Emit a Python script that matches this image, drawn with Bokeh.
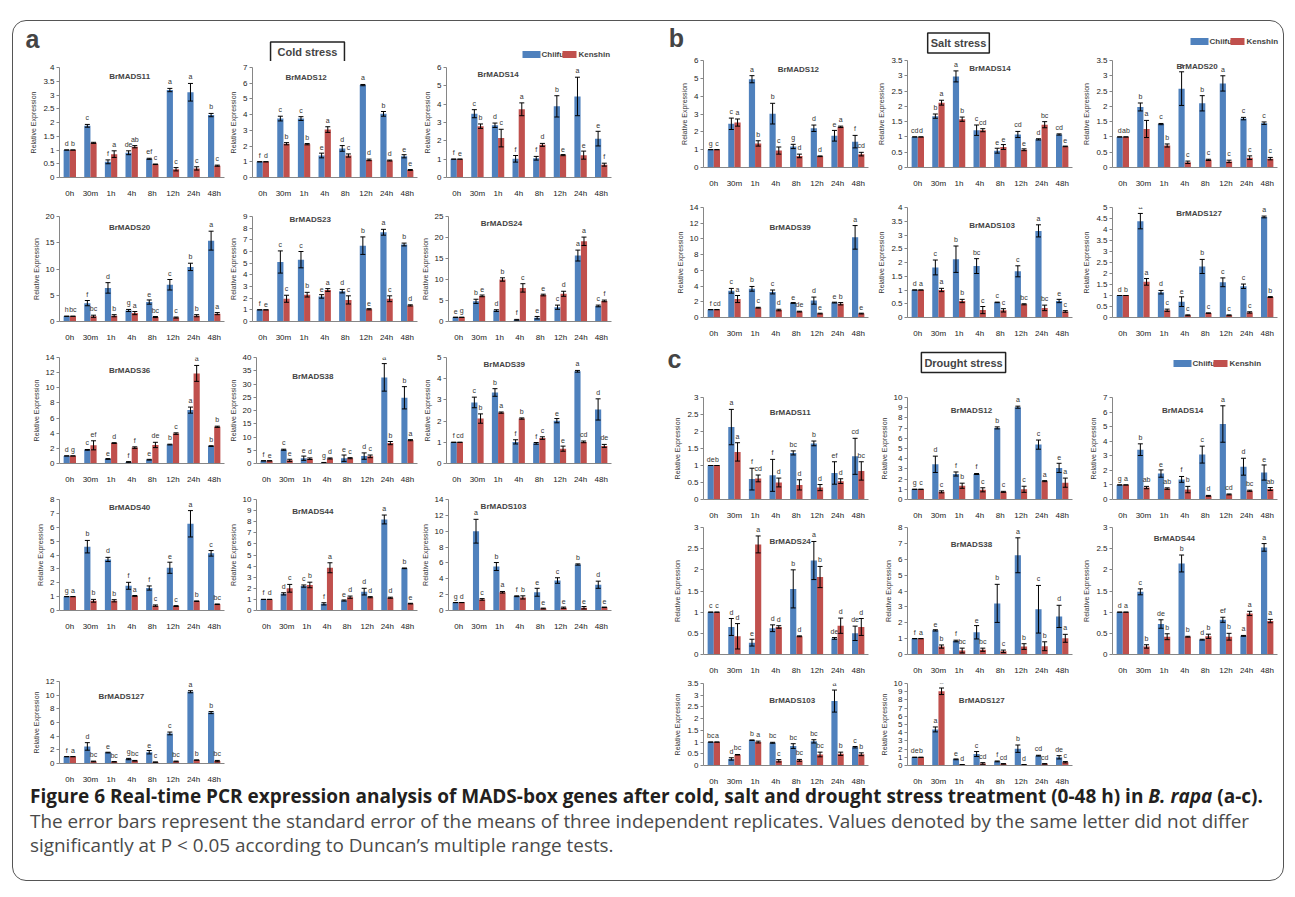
from bokeh.plotting import figure
from bokeh.models import (ColumnDataSource, Range1d, FixedTicker, CustomJSTickFormatter,
                          Label, BoxAnnotation, Spacer, Div)
from bokeh.layouts import row, column
from bokeh.transform import dodge
from bokeh.core.properties import value
from bokeh.embed import file_html
from bokeh.resources import INLINE

TIMES = ["0h", "30m", "1h", "4h", "8h", "12h", "24h", "48h"]
CULTIVARS = ["Chiifu", "Kenshin"]

# ---------------- (a) Cold stress ----------------
A11_C = [1.00, 1.88, 0.57, 0.90, 0.68, 3.18, 3.10, 2.27]
A11_CE = [0.00, 0.05, 0.07, 0.07, 0.02, 0.06, 0.32, 0.06]
A11_K = [1.00, 1.26, 0.85, 1.12, 0.48, 0.30, 0.33, 0.43]
A11_KE = [0.00, 0.02, 0.12, 0.04, 0.01, 0.06, 0.06, 0.02]
A11_CL = ["d", "c", "f", "de", "ef", "a", "a", "b"]
A11_KL = ["b", "", "a", "ab", "c", "c", "c", "c"]

A12_C = [1.00, 3.75, 3.75, 1.40, 1.85, 5.88, 4.05, 1.35]
A12_CE = [0.00, 0.15, 0.12, 0.15, 0.18, 0.04, 0.15, 0.10]
A12_K = [1.00, 2.15, 2.12, 3.05, 1.40, 1.12, 1.08, 0.48]
A12_KE = [0.00, 0.07, 0.04, 0.18, 0.10, 0.05, 0.03, 0.03]
A12_CL = ["f", "c", "c", "e", "d", "a", "b", "e"]
A12_KL = ["d", "b", "b", "a", "c", "d", "d", "e"]

A14_C = [1.00, 3.48, 2.85, 1.02, 1.05, 3.88, 4.42, 2.12]
A14_CE = [0.00, 0.22, 0.12, 0.18, 0.10, 0.58, 1.05, 0.40]
A14_K = [1.00, 2.80, 2.15, 3.72, 1.78, 1.22, 1.22, 0.70]
A14_KE = [0.00, 0.12, 0.48, 0.35, 0.08, 0.03, 0.22, 0.08]
A14_CL = ["f", "c", "d", "f", "f", "b", "a", "e"]
A14_KL = ["e", "b", "c", "a", "d", "e", "e", "f"]

A20_C = [1.0, 3.5, 6.4, 2.1, 3.7, 7.0, 10.4, 15.4]
A20_CE = [0.0, 0.5, 1.0, 0.2, 0.4, 1.0, 0.7, 1.8]
A20_K = [1.0, 1.0, 1.1, 1.6, 0.85, 0.75, 1.1, 1.5]
A20_KE = [0.0, 0.2, 0.2, 0.3, 0.1, 0.1, 0.2, 0.2]
A20_CL = ["h", "f", "d", "g", "e", "c", "b", "a"]
A20_KL = ["bc", "bc", "b", "a", "bc", "c", "b", "a"]

A23_C = [1.0, 5.1, 5.3, 2.15, 2.6, 6.5, 7.65, 6.6]
A23_CE = [0.0, 0.95, 0.7, 0.15, 0.15, 0.75, 0.25, 0.12]
A23_K = [1.0, 1.95, 2.3, 2.7, 1.85, 1.05, 1.95, 1.38]
A23_KE = [0.0, 0.3, 0.2, 0.12, 0.35, 0.05, 0.25, 0.05]
A23_CL = ["f", "c", "c", "e", "d", "b", "a", "b"]
A23_KL = ["e", "c", "b", "a", "c", "e", "c", "d"]

A24_C = [1.0, 4.8, 2.6, 0.4, 0.9, 3.4, 15.7, 3.7]
A24_CE = [0.0, 0.5, 0.2, 0.1, 0.3, 0.5, 1.3, 0.2]
A24_K = [1.0, 6.1, 10.0, 8.0, 6.3, 6.6, 19.1, 4.9]
A24_KE = [0.0, 0.2, 0.4, 1.0, 0.2, 0.6, 1.0, 0.2]
A24_CL = ["e", "b", "d", "f", "e", "c", "a", "c"]
A24_KL = ["g", "e", "b", "c", "e", "d", "a", "f"]

A36_C = [1.0, 1.8, 0.6, 0.2, 0.5, 2.5, 7.05, 2.3]
A36_CE = [0.0, 0.05, 0.05, 0.05, 0.05, 0.05, 0.4, 0.05]
A36_K = [1.0, 2.4, 2.7, 2.1, 2.45, 3.95, 11.9, 4.85]
A36_KE = [0.0, 0.6, 0.05, 0.1, 0.35, 0.1, 1.05, 0.08]
A36_CL = ["d", "c", "e", "f", "e", "b", "a", "b"]
A36_KL = ["g", "ef", "d", "f", "de", "c", "a", "b"]

A38_C = [1.0, 5.2, 2.0, 0.3, 2.0, 2.8, 32.5, 24.8]
A38_CE = [0.0, 0.2, 0.8, 0.1, 1.2, 1.2, 5.2, 4.2]
A38_K = [1.0, 1.2, 1.8, 1.9, 2.0, 2.7, 7.7, 8.8]
A38_KE = [0.0, 0.4, 0.3, 0.2, 0.2, 0.5, 0.6, 0.2]
A38_CL = ["f", "c", "e", "g", "e", "d", "a", "b"]
A38_KL = ["e", "e", "d", "d", "c", "c", "b", "a"]

A39_C = [1.0, 2.88, 3.35, 1.02, 0.95, 2.02, 4.35, 2.55]
A39_CE = [0.0, 0.25, 0.18, 0.1, 0.04, 0.1, 0.04, 0.5]
A39_K = [1.0, 2.12, 2.4, 2.12, 1.2, 0.7, 1.02, 0.83]
A39_KE = [0.0, 0.22, 0.03, 0.03, 0.06, 0.12, 0.04, 0.07]
A39_CL = ["f", "c", "b", "f", "f", "e", "a", "d"]
A39_KL = ["cd", "b", "a", "b", "c", "e", "cd", "de"]

A40_C = [1.0, 4.6, 3.68, 1.78, 1.62, 3.08, 6.25, 4.12]
A40_CE = [0.0, 0.45, 0.15, 0.25, 0.15, 0.4, 0.95, 0.2]
A40_K = [1.0, 0.7, 0.7, 1.05, 0.35, 0.32, 0.67, 0.45]
A40_KE = [0.0, 0.1, 0.08, 0.03, 0.05, 0.03, 0.02, 0.02]
A40_CL = ["g", "b", "d", "f", "f", "e", "a", "c"]
A40_KL = ["a", "b", "b", "a", "c", "c", "b", "bc"]

A44_C = [1.0, 1.5, 2.2, 0.6, 0.9, 1.7, 8.2, 3.8]
A44_CE = [0.0, 0.1, 0.1, 0.1, 0.05, 0.3, 0.4, 0.03]
A44_K = [1.0, 2.0, 2.3, 3.85, 1.2, 1.2, 1.15, 0.62]
A44_KE = [0.0, 0.35, 0.25, 0.45, 0.1, 0.05, 0.05, 0.03]
A44_CL = ["f", "d", "c", "f", "e", "d", "a", "b"]
A44_KL = ["d", "c", "b", "a", "d", "d", "d", "e"]

A103_C = [1.0, 10.0, 5.55, 1.8, 2.3, 3.78, 5.8, 3.25]
A103_CE = [0.0, 1.5, 0.5, 0.05, 0.5, 0.35, 0.08, 0.45]
A103_K = [1.0, 1.4, 2.3, 1.65, 0.25, 0.35, 0.35, 0.4]
A103_KE = [0.0, 0.1, 0.1, 0.2, 0.05, 0.08, 0.15, 0.03]
A103_CL = ["g", "a", "b", "f", "e", "c", "b", "d"]
A103_KL = ["d", "c", "a", "b", "e", "e", "e", "e"]

A127_C = [1.0, 2.5, 1.6, 0.65, 1.65, 4.4, 10.5, 7.45]
A127_CE = [0.0, 0.55, 0.05, 0.1, 0.25, 0.2, 0.15, 0.15]
A127_K = [1.0, 0.3, 0.25, 0.4, 0.2, 0.3, 0.5, 0.35]
A127_KE = [0.0, 0.05, 0.03, 0.05, 0.03, 0.05, 0.02, 0.1]
A127_CL = ["f", "d", "e", "g", "e", "c", "a", "b"]
A127_KL = ["a", "bc", "bc", "bc", "c", "bc", "b", "bc"]

# ---------------- (b) Salt stress ----------------
B12_C = [1.0, 2.45, 4.95, 3.02, 1.18, 2.2, 1.78, 1.45]
B12_CE = [0.0, 0.32, 0.2, 0.58, 0.12, 0.18, 0.3, 0.35]
B12_K = [1.0, 2.52, 1.35, 0.95, 0.65, 0.63, 2.28, 0.75]
B12_KE = [0.0, 0.2, 0.15, 0.2, 0.1, 0.02, 0.04, 0.1]
B12_CL = ["g", "c", "a", "b", "g", "d", "e", "f"]
B12_KL = ["c", "a", "b", "c", "d", "d", "a", "cd"]

B14_C = [1.0, 1.68, 2.98, 1.22, 0.55, 1.08, 0.92, 1.08]
B14_CE = [0.0, 0.07, 0.18, 0.17, 0.08, 0.1, 0.02, 0.02]
B14_K = [1.0, 2.12, 1.58, 1.22, 0.67, 0.58, 1.4, 0.69]
B14_KE = [0.0, 0.08, 0.07, 0.05, 0.08, 0.03, 0.1, 0.01]
B14_CL = ["cd", "b", "a", "c", "e", "cd", "d", "cd"]
B14_KL = ["d", "a", "b", "cd", "e", "e", "bc", "e"]

B20_C = [1.0, 1.98, 1.42, 2.58, 2.1, 2.75, 1.6, 1.45]
B20_CE = [0.0, 0.13, 0.02, 0.55, 0.25, 0.25, 0.04, 0.04]
B20_K = [1.0, 1.26, 0.72, 0.17, 0.25, 0.2, 0.32, 0.29]
B20_KE = [0.0, 0.28, 0.05, 0.04, 0.02, 0.04, 0.06, 0.04]
B20_CL = ["d", "b", "c", "a", "b", "a", "c", "c"]
B20_KL = ["ab", "a", "b", "c", "c", "c", "c", "c"]

B39_C = [1.0, 3.4, 3.65, 3.25, 1.85, 2.15, 1.9, 10.2]
B39_CE = [0.0, 0.3, 0.3, 0.25, 0.05, 0.45, 0.05, 1.5]
B39_K = [1.0, 2.35, 1.25, 0.95, 0.75, 0.5, 1.75, 0.5]
B39_KE = [0.0, 0.45, 0.05, 0.1, 0.05, 0.05, 0.15, 0.05]
B39_CL = ["f", "c", "b", "c", "e", "d", "e", "a"]
B39_KL = ["cd", "a", "c", "d", "de", "e", "b", "e"]

B103_C = [1.0, 1.82, 2.12, 1.87, 0.55, 1.68, 3.15, 0.6]
B103_CE = [0.0, 0.27, 0.48, 0.27, 0.01, 0.2, 0.22, 0.06]
B103_K = [1.0, 1.0, 0.6, 0.27, 0.26, 0.48, 0.35, 0.22]
B103_KE = [0.0, 0.06, 0.06, 0.13, 0.06, 0.02, 0.1, 0.03]
B103_CL = ["d", "c", "b", "bc", "c", "c", "a", "e"]
B103_KL = ["a", "a", "b", "c", "c", "bc", "bc", "c"]

B127_C = [1.0, 4.38, 1.15, 0.72, 2.32, 1.6, 1.42, 4.57]
B127_CE = [0.0, 0.35, 0.08, 0.22, 0.32, 0.2, 0.1, 0.04]
B127_K = [1.0, 1.62, 0.33, 0.1, 0.2, 0.1, 0.23, 0.93]
B127_KE = [0.0, 0.15, 0.05, 0.02, 0.01, 0.02, 0.03, 0.02]
B127_CL = ["d", "a", "d", "e", "b", "c", "c", "a"]
B127_KL = ["b", "a", "c", "c", "c", "c", "c", "b"]

# ---------------- (c) Drought stress ----------------
C11_C = [1.0, 2.13, 0.6, 0.71, 1.37, 1.65, 0.78, 1.27]
C11_CE = [0.0, 0.52, 0.32, 0.47, 0.06, 0.07, 0.33, 0.53]
C11_K = [1.0, 1.4, 0.62, 0.5, 0.43, 0.35, 0.54, 0.84]
C11_KE = [0.0, 0.27, 0.1, 0.13, 0.15, 0.09, 0.07, 0.27]
C11_CL = ["de", "a", "f", "f", "bc", "b", "ef", "cd"]
C11_KL = ["b", "a", "cd", "d", "d", "d", "d", "bc"]

C12_C = [1.0, 3.45, 2.5, 2.5, 7.02, 9.05, 5.38, 3.1]
C12_CE = [0.0, 0.8, 0.2, 0.05, 0.1, 0.1, 0.45, 0.45]
C12_K = [1.0, 0.75, 1.35, 0.95, 0.75, 1.0, 1.8, 1.65]
C12_KE = [0.0, 0.1, 0.25, 0.2, 0.05, 0.3, 0.05, 0.45]
C12_CL = ["g", "d", "f", "f", "b", "a", "c", "e"]
C12_KL = ["c", "c", "b", "c", "c", "c", "a", "a"]

C14_C = [1.0, 3.42, 1.78, 1.38, 3.08, 5.18, 2.25, 1.85]
C14_CE = [0.0, 0.4, 0.25, 0.2, 0.58, 1.25, 0.58, 0.52]
C14_K = [1.0, 0.82, 0.75, 0.68, 0.25, 0.35, 0.6, 0.72]
C14_KE = [0.0, 0.08, 0.05, 0.22, 0.03, 0.03, 0.04, 0.1]
C14_CL = ["g", "b", "e", "f", "c", "a", "d", "e"]
C14_KL = ["a", "ab", "ab", "b", "d", "cd", "bc", "ab"]

C24_C = [1.0, 0.65, 0.28, 0.62, 1.55, 2.22, 0.38, 0.5]
C24_CE = [0.0, 0.2, 0.08, 0.08, 0.45, 0.45, 0.02, 0.17]
C24_K = [1.0, 0.43, 2.6, 0.65, 0.43, 1.83, 0.68, 0.65]
C24_KE = [0.0, 0.3, 0.2, 0.03, 0.01, 0.25, 0.18, 0.2]
C24_CL = ["c", "d", "e", "d", "b", "a", "de", "de"]
C24_KL = ["c", "d", "a", "d", "d", "b", "d", "d"]

C38_C = [1.0, 1.52, 0.85, 1.4, 3.22, 6.25, 2.85, 2.4]
C38_CE = [0.0, 0.04, 0.05, 0.42, 1.2, 1.1, 1.5, 0.7]
C38_K = [1.0, 0.5, 0.25, 0.3, 0.2, 0.5, 0.52, 1.02]
C38_KE = [0.0, 0.1, 0.15, 0.1, 0.08, 0.18, 0.28, 0.25]
C38_CL = ["f", "e", "f", "e", "b", "a", "c", "d"]
C38_KL = ["a", "b", "bc", "bc", "c", "b", "b", "a"]

C44_C = [1.0, 1.48, 0.72, 2.15, 0.35, 0.82, 0.44, 2.53]
C44_CE = [0.0, 0.07, 0.1, 0.2, 0.01, 0.06, 0.01, 0.09]
C44_K = [1.0, 0.19, 0.42, 0.42, 0.43, 0.42, 0.97, 0.79]
C44_KE = [0.0, 0.04, 0.07, 0.01, 0.05, 0.08, 0.05, 0.04]
C44_CL = ["d", "c", "de", "b", "d", "ef", "a", "a"]
C44_KL = ["a", "b", "b", "b", "b", "b", "a", "a"]

C103_C = [1.0, 0.28, 1.08, 0.97, 0.83, 1.03, 2.75, 0.78]
C103_CE = [0.0, 0.05, 0.01, 0.02, 0.1, 0.07, 0.47, 0.03]
C103_K = [1.0, 0.46, 1.0, 0.2, 0.22, 0.47, 0.5, 0.48]
C103_KE = [0.0, 0.01, 0.04, 0.05, 0.04, 0.1, 0.07, 0.06]
C103_CL = ["bc", "d", "b", "bc", "bc", "bc", "a", "c"]
C103_KL = ["a", "bc", "a", "c", "bc", "bc", "b", "b"]

C127_C = [1.0, 4.4, 0.75, 1.4, 0.5, 2.05, 1.2, 1.0]
C127_CE = [0.0, 0.3, 0.05, 0.3, 0.05, 0.45, 0.05, 0.2]
C127_K = [1.0, 9.05, 0.1, 0.25, 0.2, 0.1, 0.2, 0.4]
C127_KE = [0.0, 0.4, 0.02, 0.1, 0.03, 0.02, 0.03, 0.08]
C127_CL = ["de", "a", "e", "c", "f", "b", "cd", "de"]
C127_KL = ["b", "a", "d", "cd", "cd", "d", "cd", "c"]

# ---------------- styling ----------------
FONT = "Liberation Sans"
BLUE = "#4F81BD"
RED = "#C0504D"
AXIS = "#868686"
FW = 165  # frame width of every panel


def make_panel(name, data, ymax, ystep, L, R, T, fh, B, tx, ty):
    c, ce, k, ke, lc, lk = data
    src = ColumnDataSource(dict(
        t=TIMES, c=c, k=k,
        c_lo=[a - b for a, b in zip(c, ce)], c_hi=[a + b for a, b in zip(c, ce)],
        k_lo=[a - b for a, b in zip(k, ke)], k_hi=[a + b for a, b in zip(k, ke)],
        lc=lc, lk=lk))
    p = figure(width=L + FW + R, height=T + fh + B, x_range=TIMES,
               y_range=Range1d(0, ymax), toolbar_location=None, tools="",
               output_backend="svg", min_border_left=L, min_border_right=R,
               min_border_top=T, min_border_bottom=B)
    p.outline_line_color = None
    p.xgrid.visible = False
    p.ygrid.visible = False
    p.border_fill_alpha = 0
    for off, val, lo, hi, lab, color in [(-0.15, "c", "c_lo", "c_hi", "lc", BLUE),
                                         (0.15, "k", "k_lo", "k_hi", "lk", RED)]:
        p.vbar(x=dodge("t", off, range=p.x_range), top=val, width=0.3, source=src,
               fill_color=color, line_color=None)
        p.segment(x0=dodge("t", off, range=p.x_range), y0=lo,
                  x1=dodge("t", off, range=p.x_range), y1=hi, source=src,
                  line_color="black", line_width=1)
        for yy in (lo, hi):
            p.scatter(x=dodge("t", off, range=p.x_range), y=yy, source=src,
                      marker="dash", size=5, line_color="black", line_width=1)
        p.text(x=dodge("t", off, range=p.x_range), y=hi, text=lab, source=src,
               text_font=value(FONT), text_font_size="7px", text_align="center",
               text_baseline="bottom", y_offset=-3, text_color="#333333")
    n = int(round(ymax / ystep))
    ya = p.yaxis[0]
    ya.ticker = FixedTicker(ticks=[i * ystep for i in range(n + 1)])
    ya.formatter = CustomJSTickFormatter(code="return String(Math.round(tick*1000)/1000)")
    ya.axis_label = "Relative Expression"
    ya.axis_label_text_font = FONT
    ya.axis_label_text_font_size = "7px"
    ya.axis_label_text_font_style = "normal"
    ya.axis_label_text_color = "#333333"
    ya.axis_label_standoff = 3
    ya.major_label_text_font = FONT
    ya.major_label_text_font_size = "8px"
    ya.major_label_text_color = "#222222"
    ya.major_label_standoff = 2
    ya.axis_line_color = AXIS
    ya.major_tick_line_color = AXIS
    ya.major_tick_out = 3
    ya.major_tick_in = 0
    ya.minor_tick_line_color = None
    xa = p.xaxis[0]
    xa.axis_line_color = AXIS
    xa.major_tick_line_color = None
    xa.major_label_text_font = FONT
    xa.major_label_text_font_size = "8px"
    xa.major_label_text_color = "#222222"
    xa.major_label_standoff = 5
    p.add_layout(Label(x=tx, y=ymax * (1 - ty / fh), text=name, text_font=FONT,
                       text_font_size="8px", text_font_style="bold",
                       text_align="center", text_baseline="middle"))
    return p


def make_header(W, H, letter, lxy, title, txy, leg):
    p = figure(width=W, height=H, x_range=Range1d(0, W), y_range=Range1d(0, H),
               toolbar_location=None, tools="", output_backend="svg", min_border=0,
               x_axis_type=None, y_axis_type=None)
    p.outline_line_color = None
    p.border_fill_alpha = 0
    p.background_fill_alpha = 0
    p.add_layout(Label(x=lxy[0], y=lxy[1], text=letter, text_font=FONT,
                       text_font_size="25px", text_font_style="bold",
                       text_align="center", text_baseline="middle"))
    p.add_layout(Label(x=txy[0], y=txy[1], text=title, text_font=FONT,
                       text_font_size="11px", text_font_style="bold",
                       text_align="center", text_baseline="middle",
                       border_line_color="#222222", border_line_width=1.5,
                       background_fill_color="white", padding=txy[2]))
    # legend: colour swatch + bold label for each cultivar
    x0, yc = leg
    layout = [(0, 18, 19), (40, 14, 16)]  # swatch offset, swatch width, label offset
    for name, color, (so, sw, lo) in zip(CULTIVARS, [BLUE, RED], layout):
        p.add_layout(BoxAnnotation(left=x0 + so, right=x0 + so + sw, bottom=yc - 3.5,
                                   top=yc + 3.5, fill_color=color, fill_alpha=1,
                                   line_alpha=0, level="overlay"))
        p.add_layout(Label(x=x0 + so + lo, y=yc, text=name, text_font=FONT,
                           text_font_size="8px", text_font_style="bold",
                           text_baseline="middle", text_align="left"))
    return p


def build_rows(rows, lefts, Ls, R, x_origin):
    out = []
    for specs, T, fh, B in rows:
        kids = []
        cur = x_origin
        for (name, data, ymax, ystep, tx, ty), fl, L in zip(specs, lefts, Ls):
            x0 = fl - L
            if x0 - cur > 0:
                kids.append(Spacer(width=x0 - cur, height=T + fh + B))
            kids.append(make_panel(name, data, ymax, ystep, L=L, R=R, T=T, fh=fh, B=B,
                                   tx=tx, ty=ty))
            cur = x0 + L + FW + R
        out.append(row(*kids))
    return out


BX, BY = 12, 20
OX = BX + 1
COLD_LEFTS, COLD_L = [59, 252, 446], [36, 26, 28]
RIGHT_LEFTS, RIGHT_L = [703, 907, 1112], [36, 34, 34]

# (name, data, ymax, ystep, title x in category units, title y px below top)
cold_rows = [
    ([("BrMADS11", (A11_C, A11_CE, A11_K, A11_KE, A11_CL, A11_KL), 4, 0.5, 3.4, 9),
      ("BrMADS12", (A12_C, A12_CE, A12_K, A12_KE, A12_CL, A12_KL), 7, 1, 2.6, 10),
      ("BrMADS14", (A14_C, A14_CE, A14_K, A14_KE, A14_CL, A14_KL), 6, 1, 2.5, 7)], 6, 110, 33),
    ([("BrMADS20", (A20_C, A20_CE, A20_K, A20_KE, A20_CL, A20_KL), 20, 5, 3.4, 11),
      ("BrMADS23", (A23_C, A23_CE, A23_K, A23_KE, A23_CL, A23_KL), 9, 1, 2.8, 3),
      ("BrMADS24", (A24_C, A24_CE, A24_K, A24_KE, A24_CL, A24_KL), 25, 5, 2.6, 7)], 6, 105, 30),
    ([("BrMADS36", (A36_C, A36_CE, A36_K, A36_KE, A36_CL, A36_KL), 14, 2, 3.4, 13),
      ("BrMADS38", (A38_C, A38_CE, A38_K, A38_KE, A38_CL, A38_KL), 40, 5, 2.8, 19),
      ("BrMADS39", (A39_C, A39_CE, A39_K, A39_KE, A39_CL, A39_KL), 5, 1, 2.8, 7)], 6, 106, 30),
    ([("BrMADS40", (A40_C, A40_CE, A40_K, A40_KE, A40_CL, A40_KL), 8, 1, 3.4, 8),
      ("BrMADS44", (A44_C, A44_CE, A44_K, A44_KE, A44_CL, A44_KL), 10, 1, 2.8, 12),
      ("BrMADS103", (A103_C, A103_CE, A103_K, A103_KE, A103_CL, A103_KL), 14, 2, 2.7, 7)], 6, 111, 65),
    ([("BrMADS127", (A127_C, A127_CE, A127_K, A127_KE, A127_CL, A127_KL), 12, 2, 3.0, 16)], 6, 85, 20),
]

salt_rows = [
    ([("BrMADS12", (B12_C, B12_CE, B12_K, B12_KE, B12_CL, B12_KL), 6, 1, 4.6, 9),
      ("BrMADS14", (B14_C, B14_CE, B14_K, B14_KE, B14_CL, B14_KL), 3.5, 0.5, 4.0, 8),
      ("BrMADS20", (B20_C, B20_CE, B20_K, B20_KE, B20_CL, B20_KL), 3.5, 0.5, 4.1, 6)], 6, 107, 34),
    ([("BrMADS39", (B39_C, B39_CE, B39_K, B39_KE, B39_CL, B39_KL), 14, 2, 4.2, 21),
      ("BrMADS103", (B103_C, B103_CE, B103_K, B103_KE, B103_CL, B103_KL), 4, 0.5, 4.1, 19),
      ("BrMADS127", (B127_C, B127_CE, B127_K, B127_KE, B127_CL, B127_KL), 5, 0.5, 4.2, 6)], 6, 113, 20),
]

drought_rows = [
    ([("BrMADS11", (C11_C, C11_CE, C11_K, C11_KE, C11_CL, C11_KL), 3, 0.5, 4.2, 16),
      ("BrMADS12", (C12_C, C12_CE, C12_K, C12_KE, C12_CL, C12_KL), 10, 1, 3.1, 14),
      ("BrMADS14", (C14_C, C14_CE, C14_K, C14_KE, C14_CL, C14_KL), 7, 1, 3.4, 14)], 6, 108, 17),
    ([("BrMADS24", (C24_C, C24_CE, C24_K, C24_KE, C24_CL, C24_KL), 3, 0.5, 4.2, 15),
      ("BrMADS38", (C38_C, C38_CE, C38_K, C38_KE, C38_CL, C38_KL), 8, 1, 3.1, 18),
      ("BrMADS44", (C44_C, C44_CE, C44_K, C44_KE, C44_CL, C44_KL), 3, 0.5, 3.0, 12)], 5, 134, 16),
    ([("BrMADS103", (C103_C, C103_CE, C103_K, C103_KE, C103_CL, C103_KL), 3.5, 0.5, 4.3, 18),
      ("BrMADS127", (C127_C, C127_CE, C127_K, C127_KE, C127_CL, C127_KL), 10, 1, 3.6, 18)], 6, 85, 20),
]

LEFT_W = 640 - OX
RIGHT_W = 1283 - 640

head_a = make_header(LEFT_W, 40, "a", (32 - OX, 61 - 38), "Cold stress",
                     (307 - OX, 61 - 51.5, (7, 4)), (522 - OX, 61 - 54))
left_block = column(head_a, *build_rows(cold_rows, COLD_LEFTS, COLD_L, 1, OX))

head_b = make_header(RIGHT_W, 33, "b", (676 - 640, 54 - 37), "Salt stress",
                     (958 - 640, 54 - 42.5, (3, 4)), (1190 - 640, 54 - 41))
head_c = make_header(RIGHT_W, 51, "c", (674 - 640, 391 - 358), "Drought stress",
                     (963 - 640, 391 - 362, (3, 4)), (1173 - 640, 391 - 363))
right_block = column(head_b, *build_rows(salt_rows, RIGHT_LEFTS, RIGHT_L, 2, 640),
                     head_c, *build_rows(drought_rows, RIGHT_LEFTS, RIGHT_L, 2, 640))

caption_html = (
    "<div style=\"font-family:'Open Sans',sans-serif;padding-left:17px;margin-top:-4px;"
    "line-height:24.5px;white-space:nowrap\">"
    "<div style=\"font-weight:bold;font-size:19px;color:#231f20\">"
    "Figure 6 Real-time PCR expression analysis of MADS-box genes after cold, salt and "
    "drought stress treatment (0-48 h) in <i>B. rapa</i> (a-c).</div>"
    "<div style=\"font-size:18.9px;color:#4a4a4a\">"
    "The error bars represent the standard error of the means of three independent "
    "replicates. Values denoted by the same letter did not differ</div>"
    "<div style=\"font-size:18.9px;color:#4a4a4a\">"
    "significantly at P &lt; 0.05 according to Duncan&#8217;s multiple range tests.</div>"
    "</div>")
caption = Div(text=caption_html, width=LEFT_W + RIGHT_W, height=92, margin=0)

framebox = column(row(left_block, right_block), caption,
                  styles={"border": "1px solid #555555", "border-radius": "14px"})
page = column(Spacer(width=10, height=BY), row(Spacer(width=BX, height=10), framebox))

open("out.html", "w").write(file_html(page, INLINE))
